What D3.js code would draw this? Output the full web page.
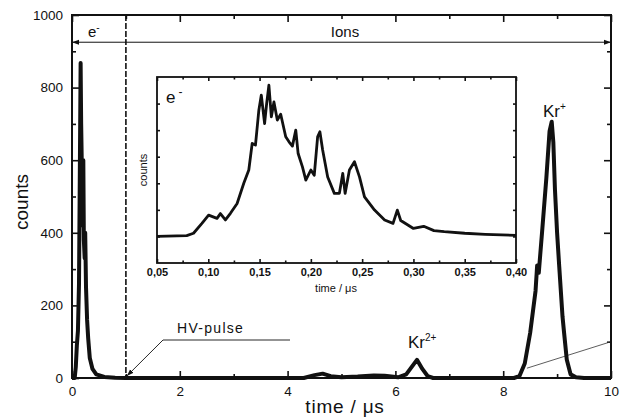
<!DOCTYPE html>
<html lang="en">
<head>
<meta charset="utf-8">
<title>Time of flight spectrum</title>
<script src="https://d3js.org/d3.v7.min.js"></script>
<style>
body{margin:0;background:#fff;}
text{font-family:"Liberation Sans",Arial,sans-serif;fill:#111;}
.domain{display:none;}
.tick line{stroke:#111;}
</style>
</head>
<body>
<script>
// main spectrum (time in us, counts)
var mainTime = [0,0.05,0.07,0.09,0.11,0.13,0.145,0.16,0.17,0.185,0.2,0.21,0.22,0.235,0.245,0.26,0.28,0.30,0.33,0.38,0.45,0.6,0.8,1.0,
  4.3,4.5,4.65,4.8,5.0,5.3,5.6,5.8,6.05,6.2,6.3,6.4,6.5,6.6,6.7,
  8.2,8.3,8.4,8.5,8.6,8.63,8.66,8.72,8.8,8.86,8.9,8.93,8.96,9.0,9.04,9.1,9.13,9.18,9.25,9.35,9.5,10];
var mainCounts = [0,0,30,90,130,260,560,868,700,560,420,600,380,330,400,250,160,110,55,25,10,3,1,0,
  0,8,12,5,2,4,7,6,2,10,30,50,25,5,0,
  0,5,40,124,240,310,290,400,550,680,706,650,520,400,306,170,124,50,10,2,0,0];

// inset: electron part (arbitrary units)
var insetTime = [0.05,0.079,0.0856,0.0938,0.1003,0.1085,0.1118,0.1167,0.1216,0.1281,0.1346,0.1395,0.1428,0.146,0.1493,0.1517,0.1549,0.1569,0.1591,0.1615,0.164,0.1673,0.1706,0.1755,0.1787,0.182,0.1853,0.1876,0.1918,0.1951,0.2,0.2033,0.2066,0.2088,0.2115,0.2164,0.2229,0.2278,0.2311,0.2334,0.2376,0.2425,0.2474,0.2523,0.2621,0.2719,0.2801,0.2843,0.2876,0.30,0.31,0.32,0.33,0.35,0.37,0.40];
var insetCounts = [1.0,1.03,1.12,1.49,1.80,1.68,1.86,1.62,1.87,2.24,3.0,3.5,4.5,4.44,5.75,6.32,5.25,6.0,6.69,5.5,6.06,5.38,5.6,4.75,4.56,4.4,5.0,4.12,3.62,3.12,3.5,3.3,4.75,4.94,4.25,3.24,2.62,2.62,3.37,2.62,3.5,3.81,3.24,2.49,1.99,1.62,1.49,1.99,1.6,1.3,1.38,1.22,1.18,1.12,1.08,1.04];

var xTicks = [0,2,4,6,8,10];
var xMinor = [1,3,5,7,9];
var yTicks = [0,200,400,600,800,1000];
var yMinor = [100,300,500,700,900];
var insetXTicks = [0.05,0.10,0.15,0.20,0.25,0.30,0.35,0.40];
var insetXMinor = [0.075,0.125,0.175,0.225,0.275,0.325,0.375];
var insetYTicks = [1,2,3,4,5,6];

var width = 629, height = 419;
var svg = d3.select("body").append("svg")
  .attr("width", width).attr("height", height);

var defs = svg.append("defs");
defs.append("marker").attr("id","arr")
  .attr("viewBox","0 0 10 10").attr("refX",10).attr("refY",5)
  .attr("markerWidth",7).attr("markerHeight",7).attr("orient","auto-start-reverse")
  .attr("markerUnits","userSpaceOnUse")
  .append("path").attr("d","M0,1.5L10,5L0,8.5Z").attr("fill","#111");

var x = d3.scaleLinear().domain([0,10]).range([72,611]);
var y = d3.scaleLinear().domain([0,1000]).range([378,15]);

// ticks, inward on all four sides
function ticks(axis, tr, vals, size, labels){
  var g = svg.append("g").attr("transform", tr)
    .call(axis.tickValues(vals).tickSizeInner(size).tickSizeOuter(0)
      .tickFormat(labels ? d3.format("d") : ""));
  g.selectAll(".tick line").attr("stroke-width",1.6);
  return g;
}
var gx = ticks(d3.axisBottom(x), "translate(0,378)", xTicks, -7, true);
gx.selectAll("text").attr("font-size",13.5).attr("dy","1.1em");
ticks(d3.axisBottom(x), "translate(0,378)", xMinor, -4, false);
ticks(d3.axisTop(x), "translate(0,15)", xTicks, -7, false);
ticks(d3.axisTop(x), "translate(0,15)", xMinor, -4, false);
var gy = ticks(d3.axisLeft(y), "translate(72,0)", yTicks, -7, true);
gy.selectAll("text").attr("font-size",13.5).attr("x",-9);
ticks(d3.axisLeft(y), "translate(72,0)", yMinor, -4, false);
ticks(d3.axisRight(y), "translate(611,0)", yTicks, -7, false);
ticks(d3.axisRight(y), "translate(611,0)", yMinor, -4, false);

// HV pulse dashed line
svg.append("line")
  .attr("x1",x(1)).attr("x2",x(1)).attr("y1",y(1000)).attr("y2",y(0))
  .attr("stroke","#111").attr("stroke-width",1.6).attr("stroke-dasharray","6,2");

// e- / Ions arrows
svg.append("line").attr("x1",x(1)).attr("x2",x(0)).attr("y1",y(925)).attr("y2",y(925))
  .attr("stroke","#111").attr("stroke-width",1).attr("marker-end","url(#arr)");
svg.append("line").attr("x1",x(1)).attr("x2",x(10)).attr("y1",y(925)).attr("y2",y(925))
  .attr("stroke","#111").attr("stroke-width",1).attr("marker-end","url(#arr)");
var eLab = svg.append("text").attr("x",88).attr("y",37).attr("font-size",15);
eLab.append("tspan").text("e");
eLab.append("tspan").attr("dy",-6).attr("font-size",10).text("-");
svg.append("text").attr("x",345).attr("y",37).attr("font-size",15)
  .attr("text-anchor","middle").text("Ions");

// the thin line near Kr+
svg.append("line").attr("x1",x(8.44)).attr("y1",y(27)).attr("x2",x(10)).attr("y2",y(100))
  .attr("stroke","#333").attr("stroke-width",0.8);

// main trace
var line = d3.line().x(function(d,i){return x(mainTime[i]);})
  .y(function(d){return y(d);});
svg.append("path").datum(mainCounts)
  .attr("d",line).attr("fill","none").attr("stroke","#111")
  .attr("stroke-width",4).attr("stroke-linejoin","round");

// frame
svg.append("rect").attr("x",72).attr("y",15).attr("width",611-72).attr("height",378-15)
  .attr("fill","none").attr("stroke","#111").attr("stroke-width",2);

// HV-pulse annotation
svg.append("text").attr("x",177).attr("y",333).attr("font-size",14)
  .attr("letter-spacing",1.3).text("HV-pulse");
svg.append("path").attr("d","M290,340L163,340L"+(x(1)+1)+","+(y(0)-2))
  .attr("fill","none").attr("stroke","#111").attr("stroke-width",0.9)
  .attr("marker-end","url(#arr)");

// peak labels
var k1 = svg.append("text").attr("x",543).attr("y",117).attr("font-size",17);
k1.append("tspan").text("Kr");
k1.append("tspan").attr("dy",-7).attr("font-size",10).text("+");
var k2 = svg.append("text").attr("x",408).attr("y",348).attr("font-size",17);
k2.append("tspan").text("Kr");
k2.append("tspan").attr("dy",-7).attr("font-size",10).text("2+");

// axis titles
svg.append("text").attr("transform","translate(28,202) rotate(-90)")
  .attr("text-anchor","middle").attr("font-size",19).text("counts");
svg.append("text").attr("x",345).attr("y",413).attr("text-anchor","middle")
  .attr("font-size",19).attr("letter-spacing",0.8).text("time / \u03bcs");

// ---- inset ----
var xi = d3.scaleLinear().domain([0.05,0.40]).range([157,516]);
var yi = d3.scaleLinear().domain([0,7]).range([263,77]);
svg.append("rect").attr("x",157).attr("y",77).attr("width",516-157).attr("height",263-77)
  .attr("fill","#fff");

var comma = function(d){return d3.format(".2f")(d).replace(".",",");};
var ix = svg.append("g").attr("transform","translate(0,263)")
  .call(d3.axisBottom(xi).tickValues(insetXTicks).tickSizeInner(-4).tickSizeOuter(0).tickFormat(comma));
ix.selectAll("text").attr("font-size",11).attr("font-weight","bold").attr("dy","0.95em");
[[d3.axisBottom(xi),"translate(0,263)",insetXMinor,-2.5],
 [d3.axisTop(xi),"translate(0,77)",insetXTicks,-4],
 [d3.axisTop(xi),"translate(0,77)",insetXMinor,-2.5],
 [d3.axisLeft(yi),"translate(157,0)",insetYTicks,-3],
 [d3.axisRight(yi),"translate(516,0)",insetYTicks,-3]].forEach(function(a){
  svg.append("g").attr("transform",a[1])
    .call(a[0].tickValues(a[2]).tickSizeInner(a[3]).tickSizeOuter(0).tickFormat(""));
});
svg.selectAll(".tick line").attr("stroke-width",1.6);

var iline = d3.line().x(function(d,i){return xi(insetTime[i]);})
  .y(function(d){return yi(d);});
svg.append("path").datum(insetCounts).attr("d",iline)
  .attr("fill","none").attr("stroke","#111").attr("stroke-width",2.8)
  .attr("stroke-linejoin","round");

svg.append("rect").attr("x",157).attr("y",77).attr("width",516-157).attr("height",263-77)
  .attr("fill","none").attr("stroke","#111").attr("stroke-width",1.8);

var ie = svg.append("text").attr("x",166).attr("y",103).attr("font-size",17);
ie.append("tspan").text("e");
ie.append("tspan").attr("dx",3).attr("dy",-7).attr("font-size",12).text("-");
svg.append("text").attr("transform","translate(147,170) rotate(-90)")
  .attr("text-anchor","middle").attr("font-size",11).text("counts");
svg.append("text").attr("x",336).attr("y",292).attr("text-anchor","middle")
  .attr("font-size",11).text("time / \u03bcs");
</script>
</body>
</html>
